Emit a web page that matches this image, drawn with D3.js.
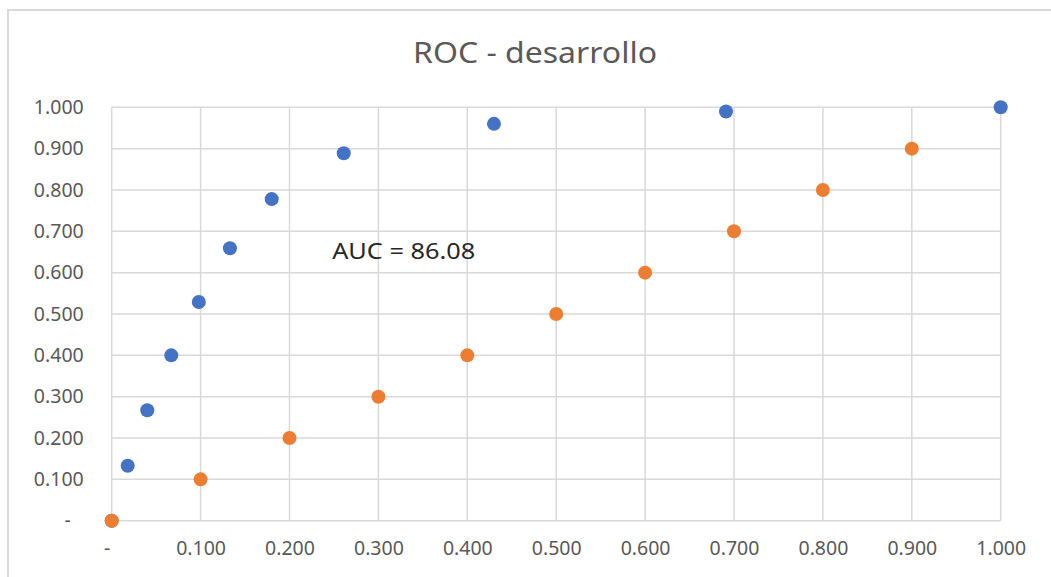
<!DOCTYPE html>
<html>
<head>
<meta charset="utf-8">
<script src="https://cdn.jsdelivr.net/npm/d3@7"></script>
<style>
  html, body { margin: 0; padding: 0; background: #fff; }
  svg { display: block; }
</style>
</head>
<body>
<svg id="chart" width="1051" height="577"></svg>
<script>
// ROC curve (development sample) against the diagonal reference line
const modelFpr = [0.000, 0.018, 0.040, 0.067, 0.098, 0.133, 0.180, 0.261, 0.430, 0.691, 1.000];
const modelTpr = [0.000, 0.133, 0.267, 0.400, 0.529, 0.659, 0.778, 0.889, 0.960, 0.990, 1.000];
const diagX = [0.0, 0.1, 0.2, 0.3, 0.4, 0.5, 0.6, 0.7, 0.8, 0.9];
const diagY = [0.0, 0.1, 0.2, 0.3, 0.4, 0.5, 0.6, 0.7, 0.8, 0.9];
const tickValues = [0, 0.1, 0.2, 0.3, 0.4, 0.5, 0.6, 0.7, 0.8, 0.9, 1.0];
const chartTitle = "ROC - desarrollo";
const aucLabel = "AUC = 86.08";
const aucPos = [0.248, 0.633];

const svg = d3.select("#chart");
const W = 1051, H = 577;
const plot = { left: 111.7, right: 1000.7, top: 107.3, bottom: 520.7 };

const x = d3.scaleLinear().domain([0, 1]).range([plot.left, plot.right]);
const y = d3.scaleLinear().domain([0, 1]).range([plot.bottom, plot.top]);

const fmt = v => v === 0 ? "-" : d3.format(".3f")(v);
const font = "'Noto Sans', 'Open Sans', sans-serif";

// outer chart frame
svg.append("rect")
  .attr("x", 8).attr("y", 10)
  .attr("width", W + 20).attr("height", H + 20)
  .attr("fill", "#fff")
  .attr("stroke", "#d9d9d9").attr("stroke-width", 2);

// gridlines
const grid = svg.append("g").attr("stroke", "#d9d9d9").attr("stroke-width", 1.5);
grid.selectAll("line.v").data(tickValues).join("line")
  .attr("class", "v")
  .attr("x1", d => x(d)).attr("x2", d => x(d))
  .attr("y1", y(0)).attr("y2", y(1));
grid.selectAll("line.h").data(tickValues).join("line")
  .attr("class", "h")
  .attr("x1", x(0)).attr("x2", x(1))
  .attr("y1", d => y(d)).attr("y2", d => y(d));

// axes (labels only, no domain lines)
const yAxis = d3.axisLeft(y).tickValues(tickValues).tickFormat(fmt).tickSize(0).tickPadding(28);
const xAxis = d3.axisBottom(x).tickValues(tickValues).tickFormat(fmt).tickSize(0).tickPadding(20);

const gy = svg.append("g").attr("transform", `translate(${plot.left},0)`).call(yAxis);
const gx = svg.append("g").attr("transform", `translate(0,${plot.bottom})`).call(xAxis);
[gy, gx].forEach(g => {
  g.select(".domain").remove();
  g.selectAll("text")
    .attr("fill", "#595959")
    .style("font-family", font)
    .style("font-size", "19.5px");
});
gy.selectAll(".tick text").filter(d => d === 0).attr("dx", -13);
gx.selectAll(".tick text").filter(d => d === 0).attr("dx", -5);

// series: model ROC points, then the diagonal on top
svg.append("g").selectAll("circle.model").data(modelFpr).join("circle")
  .attr("class", "model")
  .attr("cx", d => x(d))
  .attr("cy", (d, i) => y(modelTpr[i]))
  .attr("r", 7)
  .attr("fill", "#4472c4");

svg.append("g").selectAll("circle.diag").data(diagX).join("circle")
  .attr("class", "diag")
  .attr("cx", d => x(d))
  .attr("cy", (d, i) => y(diagY[i]))
  .attr("r", 7)
  .attr("fill", "#ed7d31");

// title
svg.append("text")
  .attr("x", 535).attr("y", 63)
  .attr("text-anchor", "middle")
  .attr("fill", "#595959")
  .attr("textLength", 244)
  .attr("lengthAdjust", "spacingAndGlyphs")
  .style("font-family", font)
  .style("font-size", "29px")
  .text(chartTitle);

// AUC annotation
svg.append("text")
  .attr("x", x(aucPos[0])).attr("y", y(aucPos[1]))
  .attr("fill", "#262626")
  .attr("textLength", 143)
  .attr("lengthAdjust", "spacingAndGlyphs")
  .style("font-family", font)
  .style("font-size", "21px")
  .text(aucLabel);
</script>
</body>
</html>
